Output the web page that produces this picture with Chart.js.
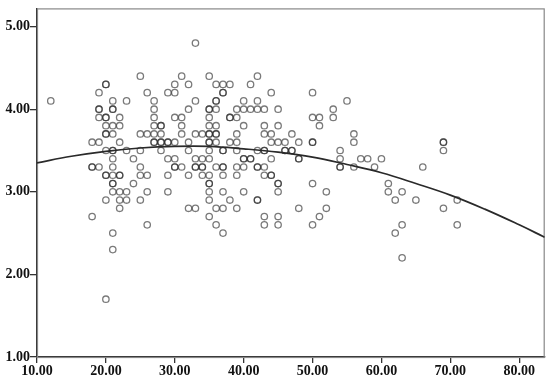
<!DOCTYPE html>
<html>
<head>
<meta charset="utf-8">
<script src="https://cdn.jsdelivr.net/npm/chart.js@4"></script>
<style>
  html, body { margin: 0; padding: 0; background: #fff; }
  #wrap { width: 550px; height: 383px; }
</style>
</head>
<body>
<div id="wrap"><canvas id="grafico"></canvas></div>
<script>
const edades = [12, 18, 19, 20, 21, 22, 23, 24, 25, 26, 27, 28, 29, 30, 31, 32, 33, 34,
  35, 36, 37, 38, 39, 40, 41, 42, 43, 44, 45, 46, 47, 48, 50, 51, 52, 53, 54, 55, 56,
  57, 58, 59, 60, 61, 62, 63, 65, 66, 69, 71];
const puntajes = [
  [4.1],
  [3.6, 3.3, 3.3, 2.7],
  [4.2, 4.0, 4.0, 3.9, 3.6, 3.3],
  [4.3, 4.3, 3.9, 3.9, 3.8, 3.7, 3.7, 3.5, 3.2, 3.2, 2.9, 1.7],
  [4.1, 4.0, 4.0, 3.8, 3.7, 3.5, 3.5, 3.4, 3.3, 3.2, 3.1, 3.1, 3.0, 2.5, 2.3],
  [3.9, 3.8, 3.6, 3.2, 3.2, 3.0, 2.9, 2.8],
  [4.1, 3.5, 3.0, 2.9],
  [3.4, 3.1],
  [4.4, 3.7, 3.5, 3.3, 3.2, 2.9],
  [4.2, 3.7, 3.2, 3.0, 2.6],
  [4.1, 4.0, 3.9, 3.8, 3.7, 3.6, 3.6],
  [3.8, 3.8, 3.7, 3.6, 3.6, 3.5],
  [4.2, 3.6, 3.6, 3.4, 3.2, 3.0],
  [4.3, 4.2, 3.9, 3.6, 3.4, 3.3, 3.3],
  [4.4, 3.9, 3.8, 3.7, 3.3],
  [4.3, 4.0, 3.6, 3.5, 3.2, 2.8],
  [4.8, 4.1, 3.7, 3.4, 3.3, 3.3, 2.8],
  [3.7, 3.4, 3.3, 3.3, 3.2],
  [4.4, 4.0, 4.0, 3.9, 3.8, 3.7, 3.7, 3.6, 3.6, 3.5, 3.4, 3.2, 3.1, 3.1, 3.0, 2.9, 2.7],
  [4.3, 4.1, 4.1, 4.0, 3.8, 3.7, 3.7, 3.6, 3.3, 2.8, 2.6],
  [4.3, 4.2, 4.2, 3.5, 3.5, 3.3, 3.3, 3.2, 3.0, 2.8, 2.5],
  [4.3, 3.9, 3.9, 3.6, 2.9],
  [4.0, 3.9, 3.7, 3.6, 3.5, 3.3, 3.2, 2.8],
  [4.1, 4.0, 3.8, 3.4, 3.4, 3.3, 3.0],
  [4.3, 4.0, 3.4, 3.4],
  [4.4, 4.1, 4.0, 3.5, 3.3, 3.3, 2.9, 2.9],
  [4.0, 3.8, 3.7, 3.5, 3.5, 3.3, 3.2, 2.7, 2.6],
  [4.2, 3.7, 3.6, 3.4, 3.2, 3.2],
  [4.0, 3.8, 3.6, 3.1, 3.1, 3.0, 2.7, 2.6],
  [3.6, 3.5, 3.5],
  [3.7, 3.5, 3.5],
  [3.6, 3.4, 3.4, 2.8],
  [4.2, 3.9, 3.6, 3.6, 3.1, 2.6],
  [3.9, 3.8, 2.7],
  [3.0, 2.8],
  [4.0, 3.9],
  [3.5, 3.4, 3.3, 3.3],
  [4.1],
  [3.7, 3.6, 3.3],
  [3.4],
  [3.4],
  [3.3],
  [3.4],
  [3.1, 3.0],
  [2.9, 2.5],
  [3.0, 2.6, 2.2],
  [2.9],
  [3.3],
  [3.6, 3.6, 3.5, 2.8],
  [2.9, 2.6]
];

const curvaX = [10, 15, 20, 25, 30, 35, 40, 45, 50, 55, 60, 65, 70, 75, 80, 83.7];
const curvaY = [3.35, 3.43, 3.49, 3.53, 3.55, 3.55, 3.52, 3.48, 3.42, 3.33, 3.23, 3.10, 2.96, 2.79, 2.60, 2.45];

const xTicks = [10, 20, 30, 40, 50, 60, 70, 80];
const yTicks = [1, 2, 3, 4, 5];

let puntos = [];
edades.forEach((edad, i) => {
  puntajes[i].forEach(v => puntos.push({ x: edad, y: v }));
});
let curva = curvaX.map((x, i) => ({ x: x, y: curvaY[i] }));

const fuente = { family: "'Liberation Serif', 'Times New Roman', serif", size: 14, weight: 'bold' };

// marco gris alrededor del area del grafico
const marco = {
  id: 'marco',
  beforeDatasetsDraw(chart) {
    const a = chart.chartArea;
    const c = chart.ctx;
    c.save();
    c.strokeStyle = '#888';
    c.lineWidth = 1.2;
    c.strokeRect(a.left + 0.5, a.top + 0.5, a.right - a.left - 1, a.bottom - a.top);
    c.restore();
  }
};

new Chart(document.getElementById('grafico'), {
  type: 'scatter',
  data: {
    datasets: [
      {
        data: puntos,
        pointStyle: 'circle',
        pointRadius: 3.2,
        pointBorderWidth: 1.3,
        borderColor: 'rgba(40,40,40,0.62)',
        backgroundColor: 'rgba(0,0,0,0)'
      },
      {
        data: curva,
        showLine: true,
        pointRadius: 0,
        borderColor: '#2a2a2a',
        borderWidth: 1.7,
        tension: 0.4,
        fill: false
      }
    ]
  },
  options: {
    responsive: true,
    maintainAspectRatio: false,
    animation: false,
    layout: { padding: { top: 4, right: 4, left: 0, bottom: 0 } },
    plugins: { legend: { display: false }, tooltip: { enabled: false } },
    scales: {
      x: {
        type: 'linear',
        min: 10,
        max: 83.7,
        afterBuildTicks: s => { s.ticks = xTicks.map(v => ({ value: v })); },
        afterFit: s => { s.height = 26; },
        ticks: {
          font: fuente,
          color: '#111',
          padding: 0,
          maxRotation: 0,
          callback: v => v.toFixed(2)
        },
        grid: { drawOnChartArea: false, tickLength: 6, color: '#333', lineWidth: 1.3 },
        border: { color: '#333', width: 1.5 }
      },
      y: {
        min: 1,
        max: 5.22,
        afterBuildTicks: s => { s.ticks = yTicks.map(v => ({ value: v })); },
        afterFit: s => { s.width = 37; },
        ticks: {
          font: fuente,
          color: '#111',
          padding: 0,
          callback: v => v.toFixed(2)
        },
        grid: { drawOnChartArea: false, tickLength: 7, color: '#333', lineWidth: 1.3 },
        border: { color: '#333', width: 1.5 }
      }
    }
  },
  plugins: [marco]
});
</script>
</body>
</html>
